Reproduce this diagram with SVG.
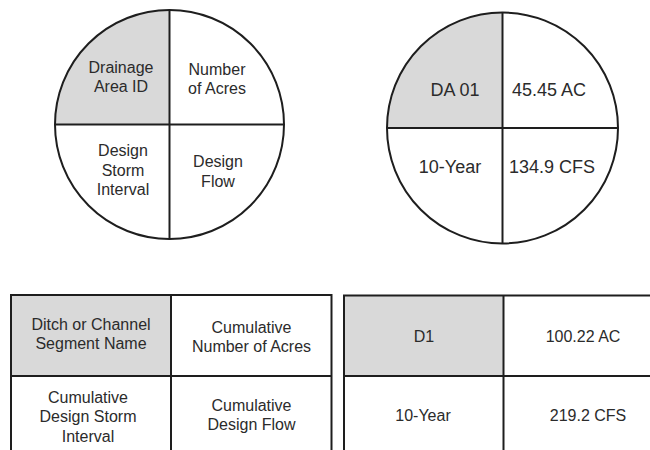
<svg xmlns="http://www.w3.org/2000/svg" width="650" height="450" viewBox="0 0 650 450">
<style>
.bg{fill:#ffffff}
.ln{stroke:#1e1e1e;stroke-width:2;fill:none}
.sh{fill:#d9d9d9}
.t{font-family:"Liberation Sans",Arial,sans-serif;font-size:16px;fill:#2b2b2b;text-anchor:middle}
.tb{font-family:"Liberation Sans",Arial,sans-serif;font-size:18px;fill:#2b2b2b;text-anchor:middle}
</style>
<rect class="bg" x="0" y="0" width="650" height="450"/>
<g id="legend-circle">
  <path class="sh" d="M169.5,124.5 L55,124.5 A114.5,114.5 0 0 1 169.5,10 Z"/>
  <circle class="ln" cx="169.5" cy="124.5" r="114.5"/>
  <line class="ln" x1="55" y1="124.5" x2="284" y2="124.5"/>
  <line class="ln" x1="169.5" y1="10" x2="169.5" y2="239"/>
  <text class="t" x="121" y="73">Drainage</text>
  <text class="t" x="121" y="92">Area ID</text>
  <text class="t" x="217" y="75">Number</text>
  <text class="t" x="217" y="94">of Acres</text>
  <text class="t" x="123" y="156">Design</text>
  <text class="t" x="123" y="175.5">Storm</text>
  <text class="t" x="123" y="195">Interval</text>
  <text class="t" x="218" y="167">Design</text>
  <text class="t" x="218" y="186.5">Flow</text>
</g>
<g id="example-circle">
  <path class="sh" d="M502.5,128 L387,128 A115.5,115.5 0 0 1 502.5,12.5 Z"/>
  <circle class="ln" cx="502.5" cy="128" r="115.5"/>
  <line class="ln" x1="387" y1="128" x2="618" y2="128"/>
  <line class="ln" x1="502.5" y1="12.5" x2="502.5" y2="243.5"/>
  <text class="tb" x="455" y="95.5">DA 01</text>
  <text class="tb" x="549" y="95.5">45.45 AC</text>
  <text class="tb" x="450" y="173">10-Year</text>
  <text class="tb" x="552" y="173">134.9 CFS</text>
</g>
<g id="legend-table">
  <rect class="sh" x="11" y="295" width="160" height="81"/>
  <path class="ln" d="M11,452 L11,295 L331.5,295 L331.5,452 M11,376 L331.5,376 M171,295 L171,452"/>
  <text class="t" x="91" y="330">Ditch or Channel</text>
  <text class="t" x="91" y="349">Segment Name</text>
  <text class="t" x="251.5" y="332.5">Cumulative</text>
  <text class="t" x="251.5" y="351.5">Number of Acres</text>
  <text class="t" x="88" y="403">Cumulative</text>
  <text class="t" x="88" y="422">Design Storm</text>
  <text class="t" x="88" y="441.5">Interval</text>
  <text class="t" x="251.5" y="411">Cumulative</text>
  <text class="t" x="251.5" y="429.5">Design Flow</text>
</g>
<g id="example-table">
  <rect class="sh" x="344" y="295.5" width="159.5" height="80.5"/>
  <path class="ln" d="M344,452 L344,295.5 L660,295.5 M344,376 L660,376 M503.5,295.5 L503.5,452"/>
  <text class="t" x="424" y="342">D1</text>
  <text class="t" x="583" y="342">100.22 AC</text>
  <text class="t" x="423" y="421">10-Year</text>
  <text class="t" x="588" y="421">219.2 CFS</text>
</g>
</svg>
